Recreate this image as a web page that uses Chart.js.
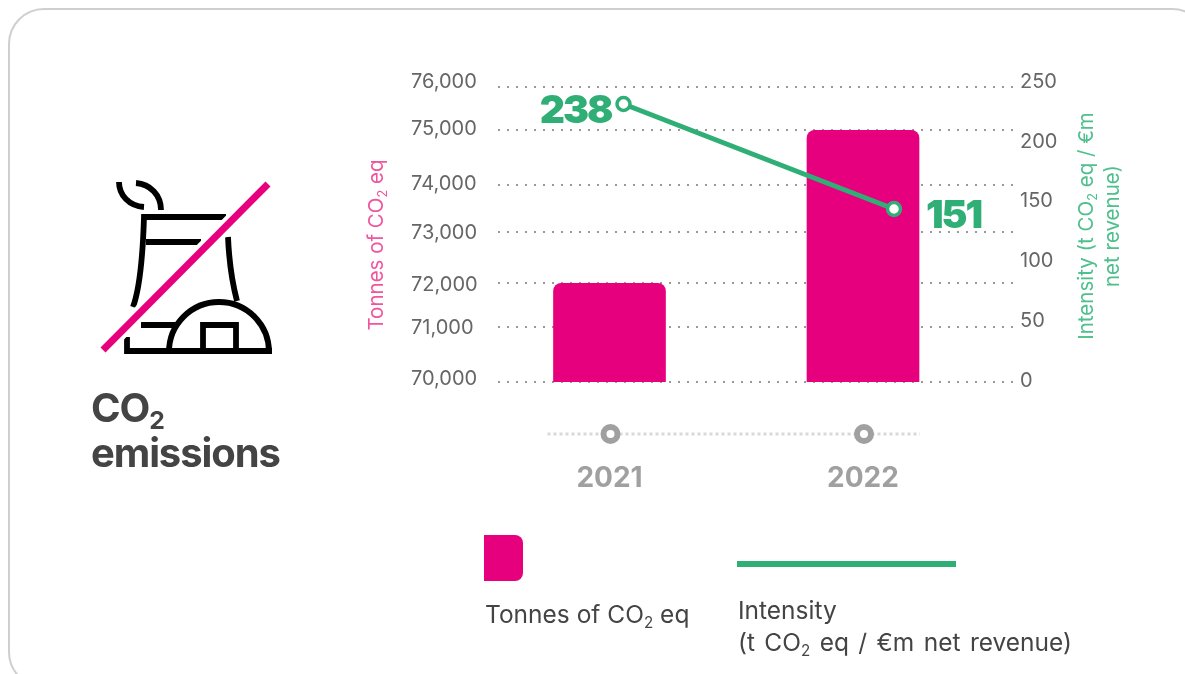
<html>
  <head>
    <script src="https://cdn.jsdelivr.net/npm/chart.js@4/dist/chart.umd.min.js"></script>
    <style>
      html, body { margin: 0; padding: 0; background: #fff; overflow: hidden; }
      body { width: 1185px; height: 674px; position: relative; font-family: Inter, sans-serif; }
      #card { position: absolute; left: 8px; top: 8px; width: 1200px; height: 680px; border: 2px solid #cfcfcf; border-radius: 36px; box-sizing: border-box; }
      #chart { position: absolute; left: 0; top: 0; }
      #icon { position: absolute; left: 0; top: 0; }
      .txt { position: absolute; white-space: nowrap; }
      sub { font-size: 0.62em; vertical-align: baseline; position: relative; top: 0.3em; line-height: 0; }
      #title { left: 91px; top: 385px; font-size: 40px; line-height: 45px; font-weight: 700; color: #444; letter-spacing: -1.1px; }
      #leftTitle { left: 375px; top: 245px; font-size: 20.5px; color: #f0569f; transform: translate(-50%, -50%) rotate(-90deg); }
      #rightTitle { left: 1099px; top: 226px; font-size: 20.5px; line-height: 26px; color: #4fc08d; text-align: center; transform: translate(-50%, -50%) rotate(-90deg); }
      #swatch { position: absolute; left: 484px; top: 535px; width: 39px; height: 46px; background: #e6007e; border-radius: 0 8px 8px 0; }
      #lineKey { position: absolute; left: 737px; top: 561px; width: 219px; height: 6px; background: #2fae76; }
      .key { font-size: 24.5px; line-height: 32px; color: #444; }
    </style>
  </head>
  <body>
    <div id="card"></div>
    <canvas id="chart" width="1185" height="674"></canvas>
    <svg id="icon" width="1185" height="674" fill="none" stroke="#000" stroke-width="5.8">
      <path d="M119 182 C119 195 129 206 144 207" />
      <path d="M136 183 C150 184 161 195 161 210" />
      <path d="M226 217 H144 C143 250 141 285 133 307" />
      <path d="M146 242 H201" />
      <path d="M228 237 C229 260 232 282 237 301" />
      <path d="M141 325 H178" />
      <path d="M127 337 V351 H272" />
      <path d="M169 352 A50 50 0 0 1 269 352" />
      <path d="M203 352 V325 H236 V352" />
      <path d="M103 350 L268 184" stroke="#fff" stroke-width="15" />
      <path d="M103 350 L268 184" stroke="#e6007e" stroke-width="7" />
    </svg>
    <div id="title" class="txt">CO<sub>2</sub><br>emissions</div>
    <div id="leftTitle" class="txt">Tonnes of CO<sub>2</sub> eq</div>
    <div id="rightTitle" class="txt">Intensity (t CO<sub>2</sub> eq / €m<br>net revenue)</div>
    <div id="swatch"></div>
    <div id="lineKey"></div>
    <div class="txt key" style="left:485px;top:598px">Tonnes of CO<sub>2</sub> eq</div>
    <div class="txt key" style="left:738px;top:594px">Intensity<br><span style="word-spacing:2.5px">(t CO<sub>2</sub> eq / €m net revenue)</span></div>
    <script>
      const years = [2021, 2022];
      const tonnes = [72000, 75000];
      const intensity = [238, 151];
      const tonnesTicks = [70000, 71000, 72000, 73000, 74000, 75000, 76000];
      const intensityTicks = [0, 50, 100, 150, 200, 250];

      // the original axes are hand spaced, so ticks sit at these fractions of the plot height
      const gridFracs = [1, 0.8136, 0.6654, 0.4915, 0.3332, 0.1468, 0];
      const tonnesLabelFracs = [0.99, 0.818, 0.672, 0.494, 0.329, 0.143, -0.016];
      const intensityLabelFracs = [0.995, 0.793, 0.59, 0.387, 0.185, -0.016];

      const GREEN = '#2fae76';
      const PINK = '#e6007e';
      const GREY = '#666';

      class WarpedScale extends Chart.LinearScale {
        getPixelForValue(value) {
          const vals = this.options.stopValues;
          const fracs = this.options.stopFracs;
          let i = 0;
          while (i < vals.length - 2 && value > vals[i + 1]) i++;
          const t = (value - vals[i]) / (vals[i + 1] - vals[i]);
          return this.top + this.height * (fracs[i] + t * (fracs[i + 1] - fracs[i]));
        }
      }
      WarpedScale.id = 'warped';
      WarpedScale.defaults = Chart.LinearScale.defaults;
      Chart.register(WarpedScale);

      function fixedTicks(values) {
        return function(scale) {
          scale.ticks = values.map(function(v) { return { value: v }; });
        };
      }

      function hiddenAxis(min, max) {
        return { type: 'linear', display: false, min: min, max: max, offset: false, bounds: 'data' };
      }

      // value labels and the dotted year strip under the plot
      const extras = {
        id: 'extras',
        afterDraw(chart) {
          const ctx = chart.ctx;
          const x = chart.scales.x;
          ctx.save();
          ctx.strokeStyle = '#d9d9d9';
          ctx.lineWidth = 3;
          ctx.setLineDash([3, 3]);
          ctx.beginPath();
          ctx.moveTo(x.getPixelForValue(years[0]) - 62, 434);
          ctx.lineTo(x.getPixelForValue(years[1]) + 57, 434);
          ctx.stroke();
          ctx.setLineDash([]);
          years.forEach(function(y) {
            ctx.beginPath();
            ctx.arc(x.getPixelForValue(y) + 1, 434, 7, 0, Math.PI * 2);
            ctx.fillStyle = '#fff';
            ctx.fill();
            ctx.lineWidth = 6;
            ctx.strokeStyle = '#a0a0a0';
            ctx.stroke();
          });
          const pts = chart.getDatasetMeta(1).data;
          ctx.fillStyle = GREEN;
          ctx.font = '900 39px Inter';
          ctx.letterSpacing = '-2px';
          ctx.textBaseline = 'middle';
          ctx.textAlign = 'right';
          ctx.fillText(String(intensity[0]), pts[0].x - 12, pts[0].y + 7);
          ctx.textAlign = 'left';
          ctx.fillText(String(intensity[1]), pts[1].x + 32, pts[1].y + 7);
          ctx.restore();
        }
      };

      new Chart('chart', {
        type: 'bar',
        plugins: [extras],
        data: {
          datasets: [
            {
              type: 'bar',
              label: 'Tonnes of CO2 eq',
              data: years.map(function(y, i) { return { x: y, y: tonnes[i] }; }),
              xAxisID: 'x',
              yAxisID: 'y',
              backgroundColor: PINK,
              barThickness: 112,
              grouped: false,
              borderRadius: { topLeft: 8, topRight: 8 },
              borderSkipped: false,
              order: 2
            },
            {
              type: 'line',
              label: 'Intensity',
              data: years.map(function(y, i) { return { x: y, y: intensity[i] }; }),
              xAxisID: 'xLine',
              yAxisID: 'yLine',
              borderColor: GREEN,
              borderWidth: 5,
              pointRadius: 6.5,
              pointBorderWidth: 3.5,
              pointBackgroundColor: '#fff',
              pointBorderColor: GREEN,
              order: 1
            }
          ]
        },
        options: {
          responsive: false,
          animation: false,
          events: [],
          layout: { padding: { left: 411, top: 87, right: 0, bottom: 0 } },
          plugins: { legend: { display: false }, tooltip: { enabled: false } },
          scales: {
            x: {
              type: 'linear',
              min: 2020.5602,
              max: 2022.5917,
              offset: false,
              bounds: 'data',
              afterBuildTicks: fixedTicks(years),
              afterFit: function(s) { s.height = 292; },
              grid: { display: false },
              border: { display: false },
              ticks: {
                autoSkip: false,
                maxRotation: 0,
                padding: 72,
                color: '#a0a0a0',
                font: { family: 'Inter', size: 28, weight: '700' },
                callback: function(v) { return String(v); }
              }
            },
            xLine: hiddenAxis(2020.536, 2022.44),
            yLine: hiddenAxis(7.66, 252.09),
            y: {
              type: 'warped',
              position: 'left',
              min: 70000,
              max: 76000,
              stopValues: tonnesTicks,
              stopFracs: gridFracs,
              afterBuildTicks: fixedTicks(tonnesTicks),
              afterFit: function(s) { s.width = 0; },
              ticks: { display: false, autoSkip: false },
              border: { display: false, dash: [2, 7] },
              grid: { color: '#999', lineWidth: 2, drawTicks: false }
            },
            yText: {
              type: 'warped',
              position: 'left',
              min: 70000,
              max: 76000,
              stopValues: tonnesTicks,
              stopFracs: tonnesLabelFracs,
              afterBuildTicks: fixedTicks(tonnesTicks),
              afterFit: function(s) { s.width = 87; },
              border: { display: false },
              grid: { display: false },
              ticks: {
                autoSkip: false,
                crossAlign: 'far',
                color: GREY,
                font: { family: 'Inter', size: 20 },
                callback: function(v) { return v.toLocaleString('en-US'); }
              }
            },
            yRight: {
              type: 'warped',
              position: 'right',
              min: 0,
              max: 250,
              stopValues: intensityTicks,
              stopFracs: intensityLabelFracs,
              afterBuildTicks: fixedTicks(intensityTicks),
              afterFit: function(s) { s.width = 172; },
              border: { display: false },
              grid: { display: false, drawTicks: false },
              ticks: {
                autoSkip: false,
                padding: 7,
                crossAlign: 'near',
                color: GREY,
                font: { family: 'Inter', size: 20 }
              }
            }
          }
        }
      });
    </script>
  </body>
</html>
